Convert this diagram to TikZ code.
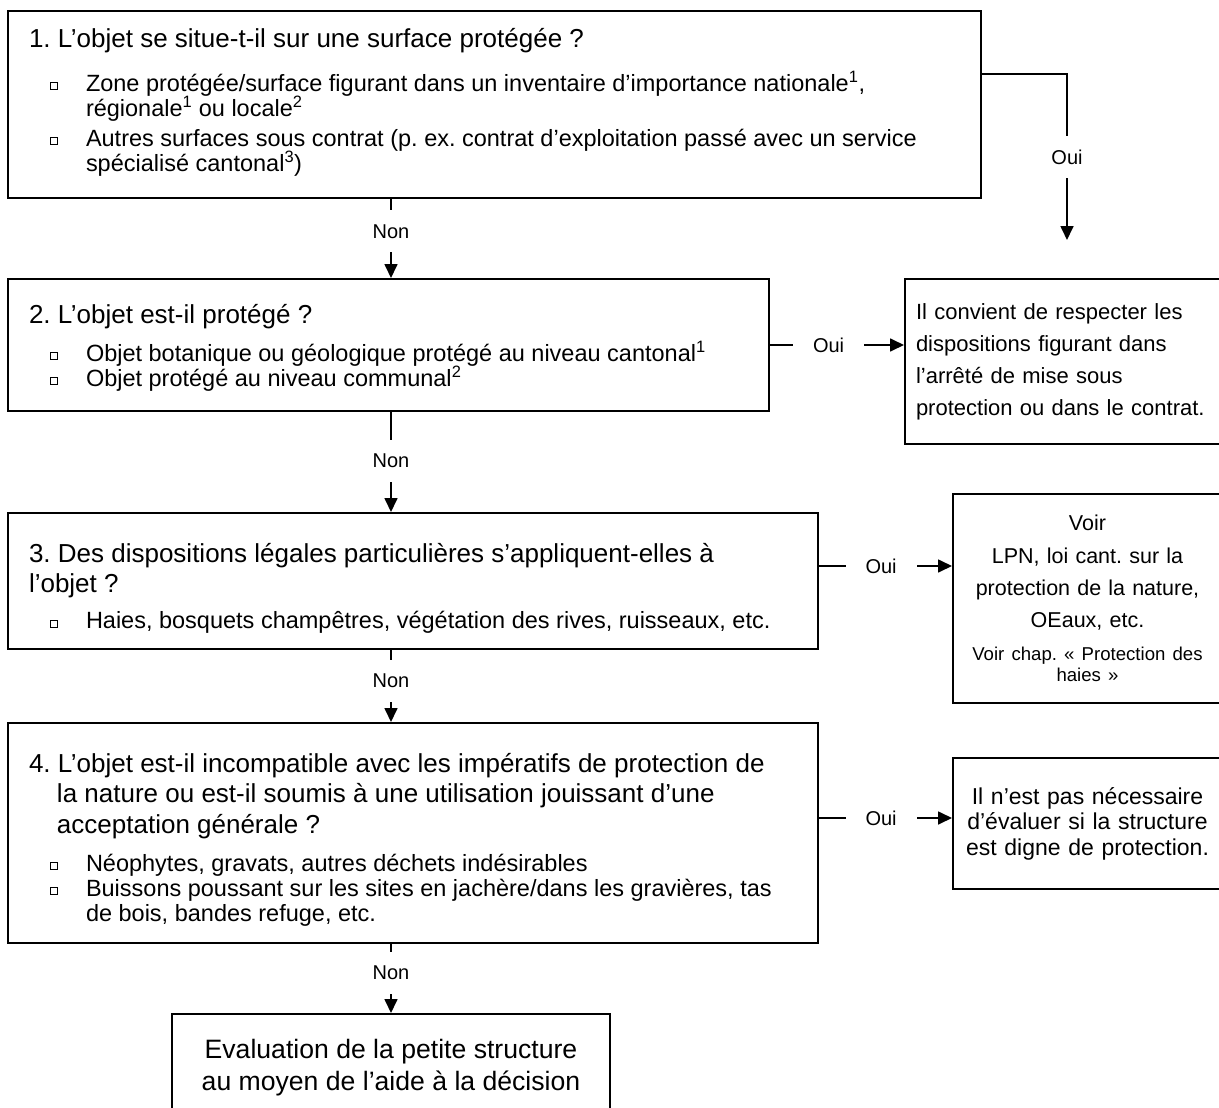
\documentclass[tikz,border=0pt]{standalone}
\usepackage{fontspec}
\setmainfont{Liberation Sans}
\usetikzlibrary{arrows.meta,calc}
\frenchspacing

\newcommand{\carre}{\raisebox{2pt}{\setlength{\fboxsep}{0pt}\setlength{\fboxrule}{0.8pt}\fbox{\rule{0pt}{6pt}\rule{6pt}{0pt}}}}
\newcommand{\titre}[2][0pt]{{\fontsize{26}{30.5}\selectfont\hangindent=#1\hangafter=1\noindent #2\par}}
\newcommand{\puce}[1]{{\fontsize{23.5}{25}\selectfont\hangindent=57pt\hangafter=1\noindent\makebox[57pt][l]{\hspace{21pt}\carre}#1\par}}
\newcommand{\cadre}[4]{\parbox[c][#1][t]{#2}{\raggedright\lineskiplimit=-50pt\vspace*{#3}#4}}

\begin{document}
\begin{tikzpicture}[x=1pt,y=-1pt,
		boite/.style={draw, line width=2pt, anchor=north west, inner ysep=0pt},
		ligne/.style={line width=1.7pt},
		fleche/.style={ligne, -{Triangle[length=14pt,width=13pt]}},
		etiq/.style={fill=white, inner xsep=20pt, inner ysep=14pt, font=\fontsize{20}{24}\selectfont}]
		\useasboundingbox (0,0) rectangle (1219,1108);
		\node[boite, inner xsep=21pt] (q1) at (7,10) {\cadre{187pt}{931pt}{17pt}{%
			\titre{1. L’objet se situe-t-il sur une surface protégée ?}
			\vspace{19pt}
			\puce{Zone protégée/surface figurant dans un inventaire d’importance nationale\textsuperscript{1},\newline régionale\textsuperscript{1} ou locale\textsuperscript{2}}
			\vspace{5pt}
			\puce{Autres surfaces sous contrat (p. ex. contrat d’exploitation passé avec un service\newline spécialisé cantonal\textsuperscript{3})}}};
		\node[boite, inner xsep=21pt] (q2) at (7,278) {\cadre{132pt}{719pt}{25pt}{%
			\titre{2. L’objet est-il protégé ?}
			\vspace{13pt}
			\puce{Objet botanique ou géologique protégé au niveau cantonal\textsuperscript{1}}
			\puce{Objet protégé au niveau communal\textsuperscript{2}}}};
		\node[boite, inner xsep=21pt] (q3) at (7,512) {\cadre{136pt}{768pt}{30pt}{%
			\titre{3. Des dispositions légales particulières s’appliquent-elles à\newline l’objet ?}
			\vspace{11pt}
			\puce{Haies, bosquets champêtres, végétation des rives, ruisseaux, etc.}}};
		\node[boite, inner xsep=21pt] (q4) at (7,722) {\cadre{220pt}{768pt}{30pt}{%
			\titre[28pt]{4. L’objet est-il incompatible avec les impératifs de protection de\newline la nature ou est-il soumis à une utilisation jouissant d’une\newline acceptation générale ?}
			\vspace{13pt}
			\puce{Néophytes, gravats, autres déchets indésirables}
			\puce{Buissons poussant sur les sites en jachère/dans les gravières, tas\newline de bois, bandes refuge, etc.}}};
		\node[boite, inner xsep=10pt] (fin) at (171,1013) {\parbox[c][117pt][t]{418pt}{\centering\fontsize{26.6}{32}\selectfont\vspace*{25pt}Evaluation de la petite structure\\ au moyen de l’aide à la décision}};
		\node[boite, inner xsep=11pt, minimum height=165pt, text width=295pt, align=left, font=\fontsize{22}{32}\selectfont] (r1) at (904,278) {Il convient de respecter les\\ dispositions figurant dans\\ l’arrêté de mise sous\\ protection ou dans le contrat.};
		\node[boite, inner xsep=6pt, minimum height=209pt, text width=257pt, align=center, font=\fontsize{21.5}{32.3}\selectfont] (r2) at (952,493) {Voir\\ LPN, loi cant. sur la\\ protection de la nature,\\ OEaux, etc.\\[12pt] {\fontsize{18.6}{21}\selectfont Voir chap. « Protection des\\ haies »\par}};
		\node[boite, inner xsep=6pt, minimum height=131pt, text width=257pt, align=center, font=\fontsize{23}{25.5}\selectfont] (r3) at (952,757) {Il n’est pas nécessaire\\ d’évaluer si la structure\\ est digne de protection.};
		\coordinate (s1) at ($(q1.north east)+(0,64)$);
		\coordinate (h1) at (1067,240);
		\coordinate (s3) at ($(q3.north east)+(0,54)$);
		\coordinate (s4) at ($(q4.north east)+(0,96)$);
		\draw[fleche] (s1) -- (s1 -| h1) -- node[etiq]{Oui} (h1);
		\draw[fleche] (q2.east) -- node[etiq, pos=0.437]{Oui} (q2.east -| r1.west);
		\draw[fleche] (s3) -- node[etiq, pos=0.467]{Oui} (s3 -| r2.west);
		\draw[fleche] (s4) -- node[etiq, pos=0.467]{Oui} (s4 -| r3.west);
		\draw[fleche] (q1.south -| fin.north) -- node[etiq, pos=0.41]{Non} (q2.north -| fin.north);
		\draw[fleche] (q2.south -| fin.north) -- node[etiq, pos=0.49]{Non} (q3.north -| fin.north);
		\draw[fleche] (q3.south -| fin.north) -- node[etiq, pos=0.43]{Non} (q4.north -| fin.north);
		\draw[fleche] (q4.south -| fin.north) -- node[etiq, pos=0.42]{Non} (fin.north);
\end{tikzpicture}
\end{document}
